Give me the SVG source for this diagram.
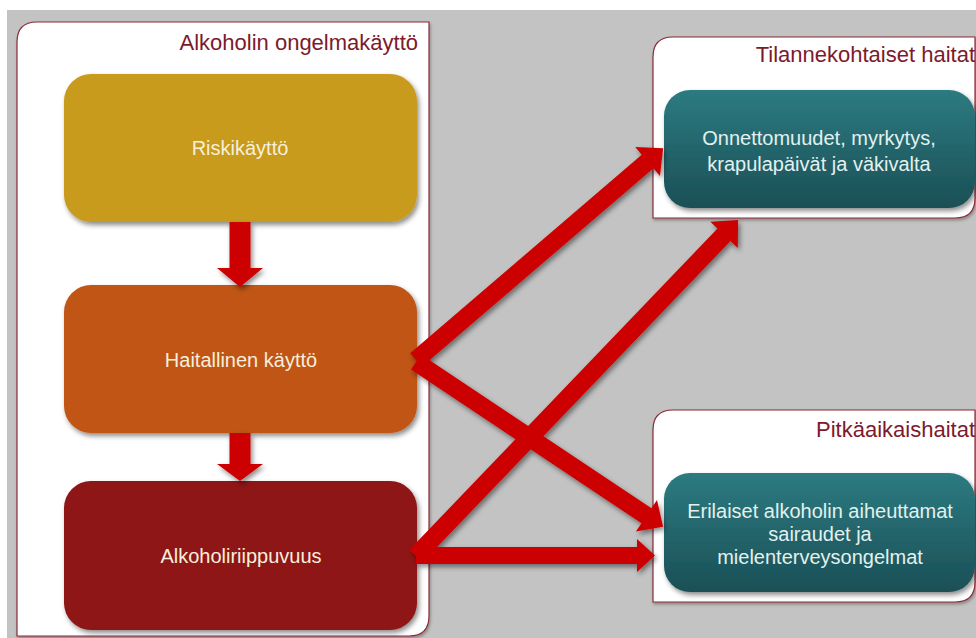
<svg xmlns="http://www.w3.org/2000/svg" width="976" height="638" viewBox="0 0 976 638">
<defs>
<style>
.cont{fill:#ffffff;stroke:#8a2b37;stroke-width:1.2}
.title{font-family:"Liberation Sans",Arial,sans-serif;font-size:22px;fill:#7c1a2c;text-anchor:end}
.lbl{font-family:"Liberation Sans",Arial,sans-serif;font-size:20px;fill:#f6efdc;text-anchor:middle}
.tlbl{font-family:"Liberation Sans",Arial,sans-serif;font-size:20px;fill:#e2f1ef;text-anchor:middle}
.arr{fill:#cc0000}
</style>
<linearGradient id="teal" x1="0" y1="0" x2="0" y2="1">
<stop offset="0" stop-color="#2c7b81"/>
<stop offset="1" stop-color="#1b4f56"/>
</linearGradient>
<filter id="sh" x="-10%" y="-10%" width="130%" height="130%">
<feDropShadow dx="2" dy="3" stdDeviation="2.5" flood-color="#000" flood-opacity="0.45"/>
</filter>
<filter id="csh" x="-5%" y="-5%" width="110%" height="110%">
<feDropShadow dx="1" dy="2" stdDeviation="1.5" flood-color="#000" flood-opacity="0.3"/>
</filter>
</defs>
<rect x="0" y="0" width="976" height="638" fill="#ffffff"/>
<rect x="7" y="10" width="969" height="628" fill="#c3c3c3"/>

<g id="container-ongelmakaytto">
<path class="cont" filter="url(#csh)" d="M37,22 H429 V616 Q429,636 409,636 H17 V42 Q17,22 37,22 Z"/>
<text class="title" x="418" y="50">Alkoholin ongelmakäyttö</text>
</g>

<g id="container-tilanne">
<path class="cont" filter="url(#csh)" d="M673,37 H975 V198 Q975,218 955,218 H653 V57 Q653,37 673,37 Z"/>
<text class="title" x="975" y="62">Tilannekohtaiset haitat</text>
</g>

<g id="container-pitka">
<path class="cont" filter="url(#csh)" d="M673,410 H975 V582 Q975,602 955,602 H653 V430 Q653,410 673,410 Z"/>
<text class="title" x="975" y="437">Pitkäaikaishaitat</text>
</g>

<g id="node-riskikaytto">
<rect x="64" y="74" width="353" height="148" rx="27" fill="#c89b1d" filter="url(#sh)"/>
<text class="lbl" x="240" y="155">Riskikäyttö</text>
</g>

<g id="node-haitallinen">
<rect x="64" y="285" width="353" height="148" rx="27" fill="#c05515" filter="url(#sh)"/>
<text class="lbl" x="241" y="367" font-size="21">Haitallinen käyttö</text>
</g>

<g id="node-riippuvuus">
<rect x="64" y="481" width="353" height="149" rx="27" fill="#8f1313" filter="url(#sh)"/>
<text class="lbl" x="241" y="563" font-size="21">Alkoholiriippuvuus</text>
</g>

<g id="node-onnettomuudet">
<rect x="664" y="90" width="311" height="118" rx="26" fill="url(#teal)" filter="url(#sh)"/>
<text class="tlbl" x="819" y="145">Onnettomuudet, myrkytys,</text>
<text class="tlbl" x="819" y="171">krapulapäivät ja väkivalta</text>
</g>

<g id="node-sairaudet">
<rect x="664" y="473" width="311" height="119" rx="26" fill="url(#teal)" filter="url(#sh)"/>
<text class="tlbl" x="820" y="518">Erilaiset alkoholin aiheuttamat</text>
<text class="tlbl" x="820" y="541">sairaudet ja</text>
<text class="tlbl" x="820" y="564">mielenterveysongelmat</text>
</g>

<g id="connectors" filter="url(#sh)">
<path class="arr" d="M229.5,222 H250.5 V268 H263 L240,287 L217,268 H229.5 Z"/>
<path class="arr" d="M229.5,433 H250.5 V464 H263 L240,481 L217,464 H229.5 Z"/>
<path class="arr" transform="translate(416,360) rotate(-40.6)" d="M0,-9 H305 V-19 L325.5,0 L305,19 V9 H0 Z"/>
<path class="arr" transform="translate(416,362) rotate(33.7)" d="M0,-9 H277 V-19 L297,0 L277,19 V9 H0 Z"/>
<path class="arr" transform="translate(416,556) rotate(-46.2)" d="M0,-9 H445 V-19 L465.4,0 L445,19 V9 H0 Z"/>
<path class="arr" d="M416,547 H637 V539 L655,555.5 L637,572 V564 H416 Z"/>
</g>
</svg>
